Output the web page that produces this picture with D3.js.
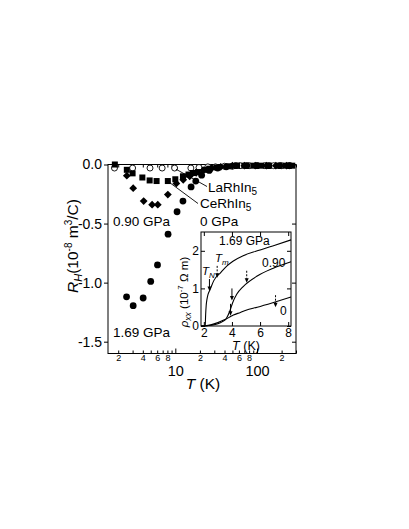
<!DOCTYPE html>
<html><head><meta charset="utf-8">
<script src="https://cdn.jsdelivr.net/npm/d3@7"></script>
<style>body{margin:0;background:#fff}svg{display:block}text{font-family:"Liberation Sans",Arial,sans-serif;fill:#000}</style>
</head><body><svg id="c" width="409" height="529"></svg>
<script>
// ---- main panel data (T in K, R_H in 1e-8 m^3/C)
const laT   = [1.8, 3.0, 4.9, 6.9, 9.8, 15.5, 19.5, 25, 31, 40, 50, 62, 80, 100, 125, 160, 200, 250];
const laRH  = [-0.03,-0.03,-0.03,-0.03,-0.03,-0.03,-0.025,-0.02,-0.02,-0.015,-0.015,-0.01,-0.01,-0.01,-0.01,-0.01,-0.01,-0.01];
const ce0T  = [1.82, 2.55, 3.0, 3.95, 4.85, 5.9, 8.1, 10, 12.4, 14.5, 16.4, 18.9, 22.8, 26, 32, 45, 57, 70, 90, 112, 140, 180, 225, 270];
const ce0RH = [0,-0.045,-0.075,-0.11,-0.135,-0.14,-0.14,-0.125,-0.10,-0.085,-0.072,-0.064,-0.045,-0.036,-0.025,-0.015,-0.01,-0.01,-0.01,-0.01,-0.01,-0.01,-0.01,-0.01];
const ce09T  = [2.55, 3.05, 4.1, 5.2, 6.1, 8.1, 10.3, 12.5, 15, 18, 22, 28, 36, 50, 70, 95, 130, 170, 230];
const ce09RH = [-0.095,-0.20,-0.31,-0.34,-0.34,-0.255,-0.16,-0.13,-0.10,-0.07,-0.05,-0.03,-0.02,-0.01,-0.01,-0.01,-0.01,-0.01,-0.01];
const ce169T  = [2.53, 3.05, 4.04, 5.0, 6.05, 8.15, 10.5, 12.4, 15.6, 17.8, 21, 26, 33, 42, 55, 75, 100, 140, 190, 250];
const ce169RH = [-1.12,-1.195,-1.13,-0.99,-0.85,-0.59,-0.40,-0.31,-0.19,-0.14,-0.09,-0.05,-0.03,-0.02,-0.01,-0.01,-0.01,-0.01,-0.01,-0.01];
const xMajor = [10, 100];
const xMinor = [2,3,4,5,6,7,8,9,20,30,40,50,60,70,80,90,200,300];
const xMinorLabels = [2,4,6,8,20,40,60,80,200];
const yTicks = [0, -0.5, -1.0, -1.5];
// ---- inset data (T in K, rho_xx in 1e-7 Ohm m)
const r169T = [1.8, 2.05, 2.1, 2.13, 2.17, 2.22, 2.3, 2.45, 2.7, 3.2, 3.65, 4.1, 4.8, 5.8, 6.9, 8.2];
const r169  = [0, 0, 0.02, 0.3, 0.55, 0.7, 0.84, 0.97, 1.2, 1.42, 1.6, 1.73, 1.87, 2.0, 2.13, 2.29];
const r090T = [1.8, 2.0, 2.5, 3.0, 3.3, 3.6, 3.85, 4.05, 4.35, 4.8, 5.8, 6.9, 8.2];
const r090  = [0, 0, 0.02, 0.06, 0.11, 0.2, 0.4, 0.62, 0.85, 1.05, 1.33, 1.53, 1.71];
const r0T   = [1.8, 2.0, 2.5, 3.0, 3.5, 3.9, 4.1, 4.6, 5.0, 5.8, 6.9, 8.2];
const r0    = [0, 0, 0.03, 0.09, 0.17, 0.25, 0.29, 0.36, 0.42, 0.5, 0.62, 0.77];
const arrowT   = [2.4, 2.95, 4.0, 5.05, 3.9, 7.1];
const arrowTip = [0.93, 1.28, 0.68, 1.15, 0.27, 0.5];
const arrowDashed = [false, true, false, true, false, true];
const insetXTicks = [2,4,6,8];
const insetYTicks = [0,1,2];

const svg = d3.select('#c');
const L=108, R=296, T0=164.5, B=353.5;
const x = d3.scaleLog().domain([1.5, 300]).range([L, R]);
const y = d3.scaleLinear().domain([-1.6, 0]).range([B, T0]);

// frame
svg.append('rect').attr('x',L).attr('y',T0).attr('width',R-L).attr('height',B-T0)
  .attr('fill','none').attr('stroke','#000').attr('stroke-width',1);

const fmt = v => (v<0?'-':'') + Math.abs(v).toFixed(1);
// bottom axis
const gb = svg.append('g').attr('transform',`translate(0,${B})`);
gb.call(d3.axisBottom(x).tickValues(xMajor).tickSize(-5).tickPadding(12).tickFormat(d=>d));
gb.call(g=>g.selectAll('.tick text').attr('font-size',14.5).attr('font-family','Liberation Sans, Arial'));
const gbm = svg.append('g').attr('transform',`translate(0,${B})`);
gbm.call(d3.axisBottom(x).tickValues(xMinor).tickSize(-3).tickPadding(1.5)
  .tickFormat(d=> xMinorLabels.includes(d) ? String(d).charAt(0) : ''));
gbm.selectAll('.tick text').attr('font-size',9).attr('font-family','Liberation Sans, Arial');
// top axis
const gt = svg.append('g').attr('transform',`translate(0,${T0})`);
gt.call(d3.axisTop(x).tickValues(xMajor).tickSize(-5).tickFormat(''));
gt.call(d3.axisTop(x).tickValues(xMinor).tickSize(-3).tickFormat(''));
// left axis
const gl = svg.append('g').attr('transform',`translate(${L},0)`);
gl.call(d3.axisLeft(y).tickValues(yTicks).tickSize(4).tickPadding(2).tickFormat(fmt));
gl.selectAll('.tick text').attr('font-size',14).attr('font-family','Liberation Sans, Arial');
// right axis
const gr = svg.append('g').attr('transform',`translate(${R},0)`);
gr.call(d3.axisRight(y).tickValues(yTicks).tickSize(-4).tickFormat(''));
svg.selectAll('.domain').remove();

// markers
const pts = (Ts, Vs) => Ts.map((t,i)=>({t, v:Vs[i]}));
svg.append('g').selectAll('circle').data(pts(laT,laRH)).join('circle')
  .attr('cx',d=>x(d.t)).attr('cy',d=>y(d.v)).attr('r',3).attr('fill','#fff').attr('stroke','#000').attr('stroke-width',0.9);
svg.append('g').selectAll('rect').data(pts(ce0T,ce0RH)).join('rect')
  .attr('x',d=>x(d.t)-3).attr('y',d=>y(d.v)-3).attr('width',6).attr('height',6).attr('fill','#000');
svg.append('g').selectAll('path').data(pts(ce09T,ce09RH)).join('path')
  .attr('d',d=>{const cx=x(d.t), cy=y(d.v), s=3.9; return `M${cx},${cy-s}L${cx+s},${cy}L${cx},${cy+s}L${cx-s},${cy}Z`;}).attr('fill','#000');
svg.append('g').selectAll('circle').data(pts(ce169T,ce169RH)).join('circle')
  .attr('cx',d=>x(d.t)).attr('cy',d=>y(d.v)).attr('r',3.4).attr('fill','#000');

// leader lines
svg.append('line').attr('x1',x(10.2)).attr('y1',y(-0.04)).attr('x2',207).attr('y2',186.5).attr('stroke','#000').attr('stroke-width',0.9);
svg.append('line').attr('x1',x(8.6)).attr('y1',y(-0.155)).attr('x2',198).attr('y2',203.5).attr('stroke','#000').attr('stroke-width',0.9);

function chem(txt, sub, px, py){
  const t = svg.append('text').attr('x',px).attr('y',py).attr('font-size',13.5);
  t.append('tspan').text(txt);
  t.append('tspan').attr('font-size',10).attr('dy',3).text(sub);
}
chem('LaRhIn','5',208,192);
chem('CeRhIn','5',200,208);
svg.append('text').attr('x',113).attr('y',226).attr('font-size',13.5).text('0.90 GPa');
svg.append('text').attr('x',200).attr('y',226).attr('font-size',13.5).text('0 GPa');
svg.append('text').attr('x',113).attr('y',337).attr('font-size',13.5).text('1.69 GPa');

// axis titles
const xt = svg.append('text').attr('x',203).attr('y',389).attr('text-anchor','middle').attr('font-size',15.5);
xt.append('tspan').attr('font-style','italic').text('T');
xt.append('tspan').text(' (K)');
const yt = svg.append('text').attr('transform','translate(78,246) rotate(-90)').attr('text-anchor','middle').attr('font-size',15.5);
yt.append('tspan').attr('font-style','italic').text('R');
yt.append('tspan').attr('font-style','italic').attr('font-size',11).attr('dy',4).text('H');
yt.append('tspan').attr('dy',-4).text('(10');
yt.append('tspan').attr('font-size',10).attr('dy',-6).text('-8');
yt.append('tspan').attr('dy',6).text(' m');
yt.append('tspan').attr('font-size',10).attr('dy',-6).text('3');
yt.append('tspan').attr('dy',6).text('/C)');

// ---- inset
const iL=201, iR=291, iT=232, iB=326;
const ix = d3.scaleLinear().domain([1.8, 8.2]).range([iL, iR]);
const iy = d3.scaleLinear().domain([0, 2.5]).range([iB, iT]);
svg.append('rect').attr('x',iL).attr('y',iT).attr('width',iR-iL).attr('height',iB-iT)
  .attr('fill','#fff').attr('stroke','#000').attr('stroke-width',1);
const ib = svg.append('g').attr('transform',`translate(0,${iB})`);
ib.call(d3.axisBottom(ix).tickValues(insetXTicks).tickSize(-4).tickPadding(2).tickFormat(d=>d));
ib.selectAll('.tick text').attr('font-size',12).attr('font-family','Liberation Sans, Arial');
const itp = svg.append('g').attr('transform',`translate(0,${iT})`);
itp.call(d3.axisTop(ix).tickValues(insetXTicks).tickSize(-4).tickFormat(''));
const il = svg.append('g').attr('transform',`translate(${iL},0)`);
il.call(d3.axisLeft(iy).tickValues(insetYTicks).tickSize(-4).tickPadding(2).tickFormat(d=>d));
il.selectAll('.tick text').attr('font-size',12).attr('font-family','Liberation Sans, Arial');
const ir = svg.append('g').attr('transform',`translate(${iR},0)`);
ir.call(d3.axisRight(iy).tickValues(insetYTicks).tickSize(-4).tickFormat(''));
svg.selectAll('.domain').remove();

const line = d3.line().x(d=>ix(d.t)).y(d=>iy(d.v)).curve(d3.curveMonotoneX);
[[r169T,r169],[r090T,r090],[r0T,r0]].forEach(([a,b])=>{
  svg.append('path').attr('d',line(pts(a,b))).attr('fill','none').attr('stroke','#000').attr('stroke-width',1.1);
});

// arrows
arrowT.forEach((t,i)=>{
  const ax=ix(t), tip=iy(arrowTip[i]), len=12;
  svg.append('line').attr('x1',ax).attr('x2',ax).attr('y1',tip-len).attr('y2',tip-4)
    .attr('stroke','#000').attr('stroke-width',1).attr('stroke-dasharray',arrowDashed[i]?'2,1.5':null);
  svg.append('path').attr('d',`M${ax-2},${tip-4.5}L${ax+2},${tip-4.5}L${ax},${tip}Z`).attr('fill','#000');
});

// inset labels
svg.append('text').attr('x',219).attr('y',245).attr('font-size',12).text('1.69 GPa');
svg.append('text').attr('x',262).attr('y',267).attr('font-size',12).text('0.90');
svg.append('text').attr('x',280).attr('y',315).attr('font-size',12).text('0');
const tn = svg.append('text').attr('x',202).attr('y',275).attr('font-size',11.5);
tn.append('tspan').attr('font-style','italic').text('T');
tn.append('tspan').attr('font-style','italic').attr('font-size',8).attr('dy',3).text('N');
const tm = svg.append('text').attr('x',215).attr('y',262).attr('font-size',11.5);
tm.append('tspan').attr('font-style','italic').text('T');
tm.append('tspan').attr('font-style','italic').attr('font-size',8).attr('dy',3).text('m');
const ixt = svg.append('text').attr('x',246).attr('y',350).attr('text-anchor','middle').attr('font-size',12.5);
ixt.append('tspan').attr('font-style','italic').text('T');
ixt.append('tspan').text(' (K)');
const iyt = svg.append('text').attr('transform','translate(188,292) rotate(-90)').attr('text-anchor','middle').attr('font-size',11.5);
iyt.append('tspan').attr('font-style','italic').text('ρ');
iyt.append('tspan').attr('font-style','italic').attr('font-size',8.5).attr('dy',3).text('xx');
iyt.append('tspan').attr('dy',-3).text(' (10');
iyt.append('tspan').attr('font-size',8).attr('dy',-5).text('-7');
iyt.append('tspan').attr('dy',5).text(' Ω m)');
</script></body></html>
